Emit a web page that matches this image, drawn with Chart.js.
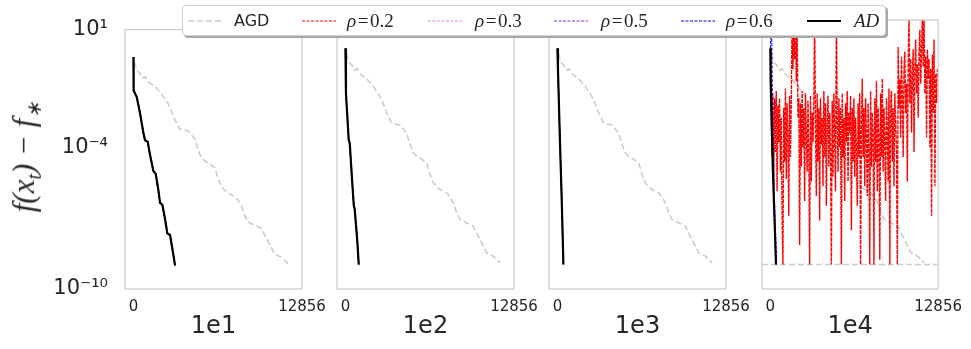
<!DOCTYPE html>
<html><head><meta charset="utf-8">
<script src="https://cdn.jsdelivr.net/npm/chart.js@4"></script>
<style>
body{margin:0;background:#fff;}
#wrap{position:relative;width:971px;height:349px;overflow:hidden;background:#fff;color:#262626;font-family:'DejaVu Sans',sans-serif;}
#wrap canvas{position:absolute;left:0;top:0;}
#legend{position:absolute;left:182px;top:5px;width:702px;height:29px;border:1px solid #d0d0d0;border-radius:4px;background:#fff;box-shadow:2px 2px 0 #a8a8a8;z-index:5;}
.li{position:absolute;white-space:nowrap;}
.lt{font-family:'DejaVu Sans',sans-serif;font-size:16px;line-height:16px;top:7px;color:#262626;}
.lm{font-family:'Liberation Serif',serif;font-size:19px;line-height:19px;top:5px;color:#262626;}
.ls{position:absolute;top:13px;}
#ylab{position:absolute;left:26px;top:157px;transform:translate(-50%,-50%) rotate(-90deg);font-family:'Liberation Serif',serif;font-style:italic;font-size:31px;white-space:nowrap;color:#262626;z-index:4;}
#ylab sub{font-size:20px;}
</style></head>
<body><div id="wrap">
<canvas id="c1" width="971" height="349"></canvas>
<canvas id="c2" width="971" height="349"></canvas>
<canvas id="c3" width="971" height="349"></canvas>
<canvas id="c4" width="971" height="349"></canvas>
<div id="ylab">f(x<sub>t</sub>) − f<sub>∗</sub></div>
<div id="legend">
  <svg class="ls" style="left:5px" width="34" height="4"><line x1="0" y1="2" x2="34" y2="2" stroke="#cccccc" stroke-width="1.6" stroke-dasharray="6,3"/></svg>
  <span class="li lt" style="left:51px">AGD</span>
  <svg class="ls" style="left:119px" width="34" height="4"><line x1="0" y1="2" x2="34" y2="2" stroke="#ff0000" stroke-width="1" stroke-dasharray="3,1.5"/></svg>
  <span class="li lm" style="left:164px"><i>ρ</i>&#8202;=&#8202;0.2</span>
  <svg class="ls" style="left:245px" width="34" height="4"><line x1="0" y1="2" x2="34" y2="2" stroke="#ee82ee" stroke-width="1" stroke-dasharray="3,1.5"/></svg>
  <span class="li lm" style="left:292px"><i>ρ</i>&#8202;=&#8202;0.3</span>
  <svg class="ls" style="left:371px" width="34" height="4"><line x1="0" y1="2" x2="34" y2="2" stroke="#8a2be2" stroke-width="1" stroke-dasharray="3,1.5"/></svg>
  <span class="li lm" style="left:418px"><i>ρ</i>&#8202;=&#8202;0.5</span>
  <svg class="ls" style="left:498px" width="34" height="4"><line x1="0" y1="2" x2="34" y2="2" stroke="#0000ff" stroke-width="1" stroke-dasharray="3,1.5"/></svg>
  <span class="li lm" style="left:543px"><i>ρ</i>&#8202;=&#8202;0.6</span>
  <svg class="ls" style="left:624px" width="34" height="4"><line x1="0" y1="2" x2="34" y2="2" stroke="#000000" stroke-width="2.2"/></svg>
  <span class="li lm" style="left:671px"><i>AD</i></span>
</div>
</div>
<script>
// ---- axes / labels ----
const panelTitles = ['1e1', '1e2', '1e3', '1e4'];
const xTicks = [0, 12856];
const X_MIN = -643, X_MAX = 12856;
const yTicks = [1e1, 1e-4, 1e-10];
const yTickLabels = ['10¹', '10⁻⁴', '10⁻¹⁰'];
const Y_MIN = 1e-10, Y_MAX = 1e1;

// ---- AGD (same in every panel), values as log10 ----
const agdX = [0, 100, 300, 500, 700, 900, 1100, 1365, 1700, 2128, 2400, 2639, 2900, 3150, 3532, 3800, 4165, 4400, 4676, 4900,
  5179, 5400, 5690, 6201, 6450, 6705, 7216, 7727, 8000, 8230, 8500, 8741, 9253, 9756, 10000, 10267, 10778, 11281, 11792];
const agdLog10 = [-0.45, -0.43, -0.75, -0.85, -1.05, -1.0, -1.2, -1.31, -1.45, -1.72, -1.95, -2.13, -2.45, -2.81, -3.22, -3.25, -3.29, -3.45, -3.63, -4.05,
  -4.44, -4.55, -4.65, -4.85, -5.3, -5.67, -5.94, -6.07, -6.25, -6.48, -6.9, -7.16, -7.30, -7.43, -7.7, -7.98, -8.52, -8.66, -8.93];

// ---- panel 1e1 ----
const ad1X = [0, 15, 252, 503, 755, 885, 1091, 1266, 1518, 1701, 1899, 2029, 2204, 2410, 2586, 2792, 2998, 3173];
const ad1Log10 = [-0.16, -1.58, -1.86, -2.54, -3.36, -3.69, -3.76, -4.31, -4.99, -5.12, -5.80, -6.35, -6.42, -7.03, -7.64, -7.71, -8.39, -9.0];
const r02p1X = [0, 15, 240, 490, 740, 870, 1075, 1250, 1500, 1685, 1880, 2010, 2190, 2395, 2570, 2775, 2980, 3160];
const r02p1Log10 = [-0.16, -1.55, -1.85, -2.55, -3.38, -3.70, -3.76, -4.33, -5.0, -5.12, -5.82, -6.36, -6.43, -7.05, -7.65, -7.72, -8.40, -9.0];
const r03p1X = [0, 15, 262, 515, 768, 900, 1105, 1282, 1534, 1718, 1915, 2046, 2222, 2428, 2604, 2810, 3016, 3220];
const r03p1Log10 = [-0.16, -1.6, -1.87, -2.53, -3.34, -3.68, -3.75, -4.29, -4.97, -5.11, -5.78, -6.33, -6.41, -7.01, -7.62, -7.70, -8.37, -9.0];

// ---- panel 1e2 ----
const ad2X = [0, 40, 250, 330, 500, 640, 700, 900, 1015];
const ad2Log10 = [-0.16, -2.0, -3.9, -4.05, -5.5, -6.6, -6.7, -8.0, -9.0];

// ---- panel 1e3 ----
const ad3X = [0, 40, 200, 330, 455];
const ad3Log10 = [-0.16, -1.0, -4.1, -6.4, -9.0];

// ---- panel 1e4 ----
const ad4X = [0, 20, 175, 300, 430];
const ad4Log10 = [-0.16, -1.5, -4.85, -6.9, -9.0];
const r06p4X = [0, 80, 145, 221, 350, 480];
const r06p4Log10 = [-0.16, 1.6, -1.88, -4.84, -7.0, -9.0];
const r02p4Step = 64; // iterations between stored samples
const r02p4Log10 = [
  -0.16, -2.8, -4.6, -2.0, -5.8, -2.2, -4.4, -1.9, -6.0, -2.5,
  -4.0, -2.2, -5.2, -3.0, -6.8, -9.0, -2.6, -4.8, -1.8, -5.5,
  -2.4, -3.8, -7.0, -2.1, -4.6, -2.4, 1.2, -1.0, 1.4, -0.6,
  1.3, -1.5, 0.8, -3.0, -2.2, -8.2, -2.4, -5.0, -1.9, -4.2,
  -2.6, -6.4, -2.0, -3.6, -5.2, -2.3, -4.4, -9.0, -2.1, -5.6,
  -2.8, -4.0, -2.4, 1.2, -3.4, -6.2, -2.0, -4.8, -2.6, -7.2,
  -2.2, -4.1, -3.0, -5.8, -1.9, -4.6, -2.4, -6.6, -3.2, -2.1,
  -5.0, -2.8, -4.4, -9.0, -2.3, -5.4, -2.0, -3.8, -6.0, 1.1,
  -3.0, -5.2, -2.2, -4.2, -2.6, -9.0, -2.0, -4.6, -3.0, -6.4,
  -2.4, -4.0, -1.9, -5.6, -2.8, -3.6, -2.1, -7.6, -2.6, -4.8,
  -2.2, -5.4, -3.0, -4.2, -6.6, -2.4, -4.6, -2.0, -9.0, -3.2,
  -1.4, -4.6, -2.6, -5.8, -2.2, -3.8, -6.2, -2.4, -4.4, -9.0,
  -1.9, -5.0, -2.8, -3.6, -9.0, -2.2, -4.8, -1.5, -6.0, -2.6,
  -3.8, -8.8, -2.0, -4.6, -1.4, -5.2, -2.6, -4.0, -6.4, -2.2,
  -3.4, -5.6, -1.8, -9.0, -2.4, -1.9, -4.8, -2.6, -5.8, -2.0,
  -3.2, -4.4, -9.0, -0.1, -2.6, -1.4, -3.8, -0.5, -2.2, -4.6,
  -1.0, -0.3, -2.8, -1.6, -5.6, -0.8, 1.2, -2.4, -0.6, -3.6,
  -1.2, -0.2, -4.4, -1.0, 0.2, -2.0, -0.8, -3.0, -0.4, 0.6,
  -1.6, -0.3, 1.3, -0.9, 1.1, -2.0, -0.5, -3.8, -0.2, -1.4,
  -0.6, -4.2, -1.0, -7.0, -0.4, -2.8, 0.2, -5.8, -1.2, -2.4,
  -1.0];
const floor4 = 1e-9;

// ---- helpers ----
const COLORS = { agd: '#cccccc', r02: '#ff0000', r03: '#ee82ee', r05: '#8a2be2', r06: '#0000ff', ad: '#000000' };
function series(xs, logs) { return xs.map((x, i) => ({ x: x, y: Math.pow(10, logs[i]) })); }
function ds(data, color, kind, order) {
  const o = { data, borderColor: color, backgroundColor: color, pointRadius: 0, tension: 0, fill: false, order };
  if (kind === 'agd') { o.borderWidth = 1.6; o.borderDash = [6, 3]; }
  else if (kind === 'rho') { o.borderWidth = 1.1; o.borderDash = [3, 1.5]; }
  else if (kind === 'rhoDense') { o.borderWidth = 1.4; o.borderDash = [4, 1]; }
  else { o.borderWidth = 2.2; }
  return o;
}

const PANEL_LEFT = [125, 337, 549, 762];
const PANEL_W = 177, AREA_TOP = 20, AREA_BOTTOM = 289, W = 971, H = 349;
const framePlugin = {
  id: 'frame',
  afterDatasetsDraw(chart) {
    const { ctx, chartArea: a } = chart;
    ctx.save(); ctx.strokeStyle = '#cccccc'; ctx.lineWidth = 1.2;
    ctx.strokeRect(a.left, a.top, a.right - a.left, a.bottom - a.top);
    ctx.restore();
  }
};

function build(id, k, datasets) {
  const left = PANEL_LEFT[k], right = left + PANEL_W;
  const yOpts = {
    type: 'logarithmic', min: Y_MIN, max: Y_MAX, display: k === 0,
    grid: { display: false, drawTicks: false }, border: { display: false },
    afterBuildTicks: s => { s.ticks = yTicks.map(v => ({ value: v, major: true })); },
    ticks: { autoSkip: false, padding: 17, color: '#262626',
      font: { family: 'DejaVu Sans', size: 21 },
      callback: v => yTickLabels[yTicks.indexOf(v)] }
  };
  if (k === 0) yOpts.afterFit = s => { s.width = PANEL_LEFT[0]; };
  return new Chart(document.getElementById(id), {
    type: 'line',
    data: { datasets },
    options: {
      responsive: false, animation: false, devicePixelRatio: 1,
      layout: { padding: { left: k === 0 ? 0 : left, right: W - right, top: AREA_TOP, bottom: 0 } },
      plugins: { legend: { display: false }, tooltip: { enabled: false } },
      scales: {
        x: {
          type: 'linear', min: X_MIN, max: X_MAX,
          grid: { display: false, drawTicks: false }, border: { display: false },
          afterBuildTicks: s => { s.ticks = xTicks.map(v => ({ value: v })); },
          afterFit: s => { s.height = H - AREA_BOTTOM; },
          ticks: { autoSkip: false, maxRotation: 0, padding: 9, color: '#262626',
            font: { family: 'DejaVu Sans', size: 15 }, callback: v => String(v) },
          title: { display: true, text: panelTitles[k], color: '#262626',
            font: { family: 'DejaVu Sans', size: 24 }, padding: { top: 0, bottom: 8 } }
        },
        y: yOpts
      }
    },
    plugins: [framePlugin]
  });
}

const agd = () => ds(series(agdX, agdLog10), COLORS.agd, 'agd', 10);

build('c1', 0, [
  agd(),
  ds(series(r02p1X, r02p1Log10), COLORS.r02, 'rho', 9),
  ds(series(r03p1X, r03p1Log10), COLORS.r03, 'rho', 8),
  ds(series(ad1X, ad1Log10), COLORS.r05, 'rho', 7),
  ds(series(ad1X, ad1Log10), COLORS.r06, 'rho', 6),
  ds(series(ad1X, ad1Log10), COLORS.ad, 'ad', 1)
]);
build('c2', 1, [
  agd(),
  ds(series(ad2X, ad2Log10), COLORS.r02, 'rho', 9),
  ds(series(ad2X, ad2Log10), COLORS.r03, 'rho', 8),
  ds(series(ad2X, ad2Log10), COLORS.r05, 'rho', 7),
  ds(series(ad2X, ad2Log10), COLORS.r06, 'rho', 6),
  ds(series(ad2X, ad2Log10), COLORS.ad, 'ad', 1)
]);
build('c3', 2, [
  agd(),
  ds(series(ad3X, ad3Log10), COLORS.r02, 'rho', 9),
  ds(series(ad3X, ad3Log10), COLORS.r03, 'rho', 8),
  ds(series(ad3X, ad3Log10), COLORS.r05, 'rho', 7),
  ds(series(ad3X, ad3Log10), COLORS.r06, 'rho', 6),
  ds(series(ad3X, ad3Log10), COLORS.ad, 'ad', 1)
]);
build('c4', 3, [
  ds([{ x: X_MIN, y: floor4 }, { x: X_MAX, y: floor4 }], COLORS.agd, 'agd', 11),
  agd(),
  ds(r02p4Log10.map((v, i) => ({ x: i * r02p4Step, y: Math.pow(10, v) })), COLORS.r02, 'rhoDense', 9),
  ds(series(ad4X, ad4Log10), COLORS.r03, 'rho', 8),
  ds(series(ad4X, ad4Log10), COLORS.r05, 'rho', 7),
  ds(series(r06p4X, r06p4Log10), COLORS.r06, 'rho', 6),
  ds(series(ad4X, ad4Log10), COLORS.ad, 'ad', 1)
]);
</script>
</body></html>
